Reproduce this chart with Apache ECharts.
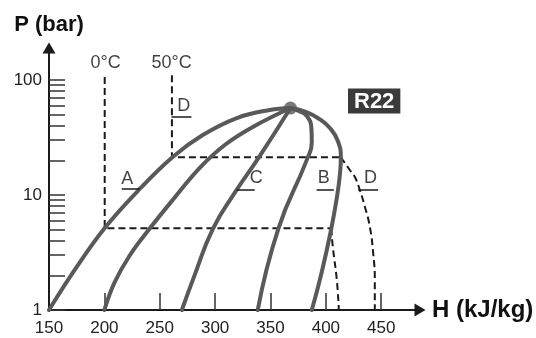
<!DOCTYPE html>
<html><head><meta charset="utf-8">
<script src="https://cdn.jsdelivr.net/npm/echarts@6/dist/echarts.min.js"></script>
<style>html,body{margin:0;padding:0;background:#fff}#chart{width:536px;height:338px}</style>
</head><body><div id="chart"></div>
<script>
// R22 pressure–enthalpy diagram: log P (bar) against H (kJ/kg)
const hTicks = [150, 200, 250, 300, 350, 400, 450];
const pTicks = [1, 10, 100];
const pMinorTicks = [1, 2, 3, 4, 5, 6, 7, 8, 9, 10, 20, 30, 40, 50, 60, 70, 80, 90, 100];

// critical point
const criticalH = 368;
const criticalP = 57;

// saturated liquid line (A)
const liquidH = [150, 173.2, 200.3, 231.9, 261.7, 288.8, 319.6, 349.4, 368];
const liquidP = [1.00, 2.23, 5.16, 11.28, 21.4, 33.2, 46.7, 54.8, 57];
// constant-quality lines inside the dome (C is the middle one)
const quality1H = [200, 209.0, 222.6, 240.6, 261.7, 286.1, 308.7, 334.0, 368];
const quality1P = [1.00, 1.72, 2.95, 5.06, 9.05, 17.2, 27.2, 39.0, 57];
const quality2H = [270, 281.6, 297.9, 318.7, 339.5, 368];
const quality2P = [1.00, 2.02, 5.06, 10.8, 21.2, 57];
const quality3H = [338.5, 357.0, 382.8, 387.3, 386.9, 382.8, 375.6, 368];
const quality3P = [1.00, 5.06, 20.2, 28.9, 38.3, 48.6, 53.8, 57];
// saturated vapour line (B)
const vapourH = [368, 381.9, 394.6, 403.6, 410.8, 413.5, 412.6, 410.3, 404.9, 396.3, 387.3];
const vapourP = [57, 52.7, 45.4, 38.3, 29.5, 21.0, 14.9, 10.0, 5.11, 2.14, 1.00];

// isotherms (D): liquid / two-phase part and superheated branch
const iso0H = [200.3, 200.3, 404.9];
const iso0P = [106, 5.13, 5.13];
const iso0VapH = [404.9, 406.3, 409.9, 411.7];
const iso0VapP = [5.13, 3.53, 1.82, 1.00];
const iso50H = [261, 261, 413.5];
const iso50P = [110, 21.3, 21.3];
const iso50VapH = [413.5, 421.6, 426.1, 430.7, 435.2, 439.7, 442.7, 444.2, 444.2];
const iso50VapP = [21.3, 16.5, 14.4, 11.0, 7.91, 5.30, 3.13, 1.82, 1.00];

// curve labels with their underline leaders
const notes = [
  { text: 'A', at: [220.6, 13.9], line: [[215.7, 11.28], [231.9, 11.28]] },
  { text: 'C', at: [337.2, 14.06], line: [[319.3, 11.05], [335.8, 11.05]] },
  { text: 'B', at: [398.2, 13.97], line: [[391.6, 11.2], [407.2, 11.2]] },
  { text: 'D', at: [440.4, 13.97], line: [[429.1, 11.05], [447.2, 11.05]] },
  { text: 'D', at: [271.7, 59.4], line: [[260.6, 47.9], [278.6, 47.9]] },
  { text: '0°C', at: [201.2, 140.6], line: null },
  { text: '50°C', at: [260.8, 140.6], line: null }
];

const font = "'Liberation Sans', Arial, Helvetica, sans-serif";
const lg = Math.log10;
const pts = (hs, ps) => hs.map((h, i) => [h, lg(ps[i])]);
const solidStyle = { color: '#58595b', width: 4, cap: 'round', join: 'round' };
const dashStyle = { color: '#1a1a1a', width: 2, type: [7, 4] };

function curve(hs, ps, smooth, style) {
  return { type: 'line', data: pts(hs, ps), smooth: smooth, showSymbol: false, symbol: 'none',
           lineStyle: style, z: style === solidStyle ? 3 : 2, silent: true };
}

const series = [
  curve(iso0H, iso0P, false, dashStyle),
  curve(iso0VapH, iso0VapP, true, dashStyle),
  curve(iso50H, iso50P, false, dashStyle),
  curve(iso50VapH, iso50VapP, true, dashStyle),
  curve(liquidH, liquidP, 0.4, solidStyle),
  curve(quality1H, quality1P, 0.4, solidStyle),
  curve(quality2H, quality2P, true, solidStyle),
  curve(quality3H, quality3P, true, solidStyle),
  curve(vapourH, vapourP, true, solidStyle),
  { type: 'scatter', data: [[criticalH, lg(criticalP)]], symbol: 'circle', symbolSize: 13,
    itemStyle: { color: '#58595b' }, z: 4, silent: true },
  { type: 'lines', coordinateSystem: 'cartesian2d', z: 4, silent: true,
    data: notes.filter(n => n.line).map(n => ({ coords: n.line.map(p => [p[0], lg(p[1])]) })),
    lineStyle: { color: '#1a1a1a', width: 1.6, opacity: 1 } },
  { type: 'scatter', z: 5, silent: true, symbolSize: 1, itemStyle: { color: 'rgba(0,0,0,0)' },
    data: notes.map(n => ({ value: [n.at[0], lg(n.at[1])], name: n.text })),
    label: { show: true, position: 'inside', formatter: p => p.name, color: '#111',
             fontSize: 18, fontFamily: font } }
];

const chart = echarts.init(document.getElementById('chart'));
chart.setOption({
  animation: false,
  backgroundColor: '#fff',
  title: { text: 'R22', left: 348, top: 89, backgroundColor: '#3a3a3a', padding: [2, 6, 1, 6],
           textStyle: { color: '#fff', fontWeight: 'bold', fontSize: 22, lineHeight: 21, fontFamily: font } },
  grid: { left: 49, right: 116, top: 48, bottom: 28, containLabel: false, outerBoundsMode: 'none' },
  xAxis: {
    type: 'value', min: 150, max: 485,
    axisLine: { lineStyle: { color: '#1a1a1a', width: 2 }, symbol: ['none', 'triangle'], symbolSize: [13, 11] },
    axisTick: { inside: true, length: 17, customValues: hTicks.slice(1), lineStyle: { color: '#333', width: 1.5 } },
    axisLabel: { customValues: hTicks, margin: 10, color: '#222', fontSize: 17, fontFamily: font },
    splitLine: { show: false },
    name: 'H (kJ/kg)', nameLocation: 'end', nameGap: 12,
    nameTextStyle: { color: '#111', fontWeight: 'bold', fontSize: 24, fontFamily: font, verticalAlign: 'middle' }
  },
  yAxis: {
    type: 'value', min: 0, max: 2.278,
    axisLine: { lineStyle: { color: '#1a1a1a', width: 2 }, symbol: ['none', 'triangle'], symbolSize: [13, 11] },
    axisTick: { inside: true, length: 16, customValues: pMinorTicks.map(lg), lineStyle: { color: '#333', width: 1.5 } },
    axisLabel: { customValues: pTicks.map(lg), margin: 7, color: '#222', fontSize: 17, fontFamily: font,
                 formatter: v => String(Math.round(Math.pow(10, v))) },
    splitLine: { show: false },
    name: 'P (bar)', nameLocation: 'end', nameGap: 12,
    nameTextStyle: { color: '#111', fontWeight: 'bold', fontSize: 22, fontFamily: font }
  },
  series: series
});
</script>
</body></html>
